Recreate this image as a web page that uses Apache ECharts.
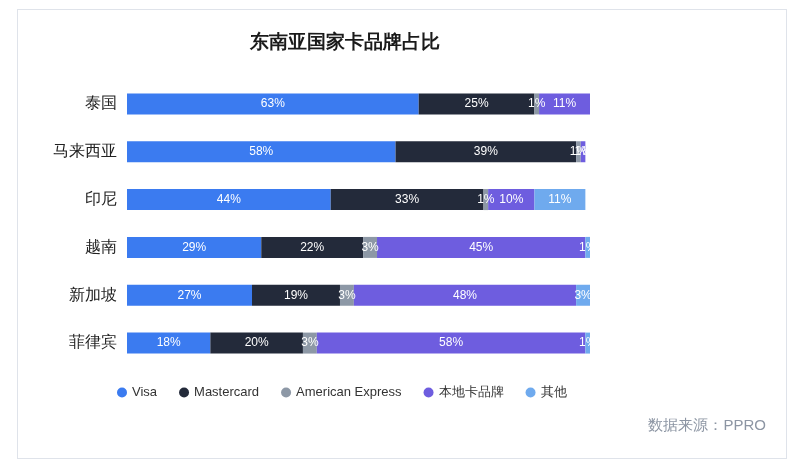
<!DOCTYPE html>
<html lang="zh">
<head>
<meta charset="UTF-8">
<title>东南亚国家卡品牌占比</title>
<script src="https://cdn.jsdelivr.net/npm/echarts@6/dist/echarts.min.js"></script>
<style>
  html, body { margin: 0; padding: 0; background: #fff; }
  #frame { position: absolute; left: 17px; top: 9px; width: 770px; height: 450px; border: 1px solid #dfe3ea; box-sizing: border-box; }
  #main { width: 800px; height: 470px; }
</style>
</head>
<body>
<div id="frame"></div>
<div id="main"></div>
<script>
    var countries = ['泰国', '马来西亚', '印尼', '越南', '新加坡', '菲律宾'];
    var brands = ['Visa', 'Mastercard', 'American Express', '本地卡品牌', '其他'];
    var colors = ['#3b7bf0', '#232a3a', '#8d98a6', '#6e5ddf', '#6faaee'];
    // 每个品牌在各国的占比(%)
    var visa = [63, 58, 44, 29, 27, 18];
    var master = [25, 39, 33, 22, 19, 20];
    var amex = [1, 1, 1, 3, 3, 3];
    var local = [11, 1, 10, 45, 48, 58];
    var other = [0, 0, 11, 1, 3, 1];
    var values = [visa, master, amex, local, other];

    var series = [];
    for (var i = 0; i < brands.length; i++) {
        series.push({
            name: brands[i],
            type: 'bar',
            stack: 'total',
            barWidth: 21,
            itemStyle: { color: colors[i] },
            label: {
                show: true,
                color: '#fff',
                fontSize: 12,
                formatter: function (p) { return p.value > 0 ? p.value + '%' : ''; }
            },
            data: values[i]
        });
    }

    var option = {
        title: {
            text: '东南亚国家卡品牌占比',
            left: 340, top: 28, textAlign: 'center',
            textStyle: { fontSize: 19, fontWeight: 'bold', color: '#1a1a1a' }
        },
        legend: {
            data: brands, bottom: 66, left: 112, itemGap: 22,
            icon: 'circle', itemWidth: 10, itemHeight: 10,
            textStyle: { fontSize: 13, color: '#333' }
        },
        grid: { left: 127, right: 210, top: 80, bottom: 103 },
        xAxis: { type: 'value', min: 0, max: 100, show: false },
        yAxis: {
            type: 'category', data: countries, inverse: true,
            axisLine: { show: false }, axisTick: { show: false },
            axisLabel: { fontSize: 16, color: '#222', margin: 10 }
        },
        graphic: [{
            type: 'text', right: 34, top: 418,
            style: { text: '数据来源：PPRO', fontSize: 15, fill: '#8c95a3' }
        }],
        series: series
    };
    var chart = echarts.init(document.getElementById('main'));
    chart.setOption(option);
</script>
</body>
</html>
